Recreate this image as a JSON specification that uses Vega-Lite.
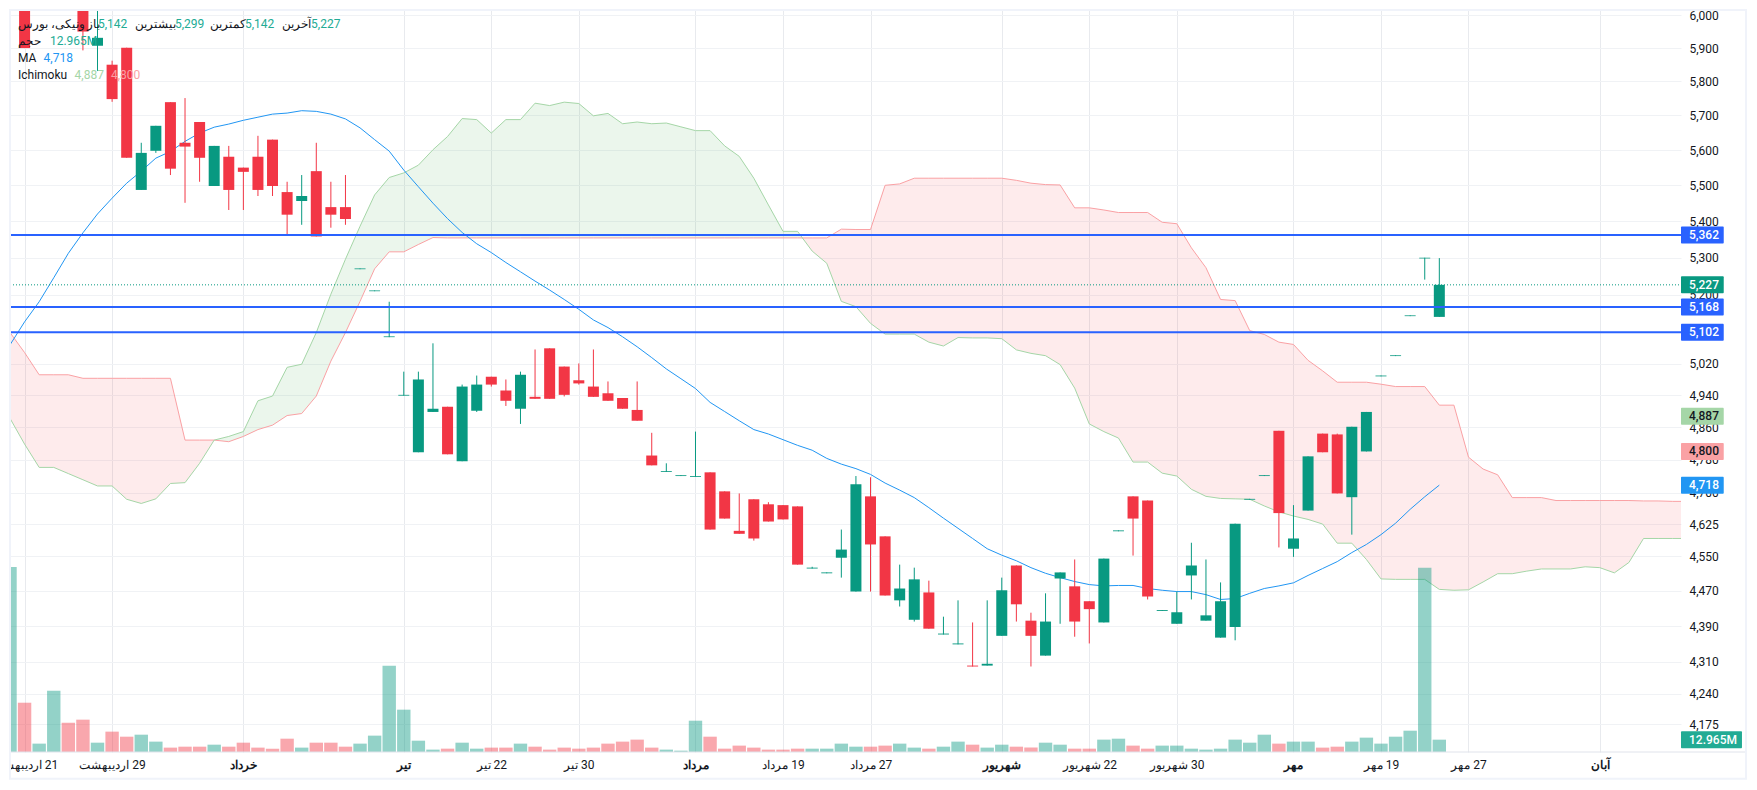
{
  "$schema": "https://vega.github.io/schema/vega-lite/v6.json",
  "width": 1671,
  "height": 742,
  "autosize": "none",
  "padding": {"left": 10, "top": 10, "right": 76, "bottom": 38},
  "background": "white",
  "config": {"view": {"stroke": null}, "font": "Roboto"},
  "datasets": {
    "candles": [
      {"bar":0,"open":6040,"close":6080,"high":6100,"low":5925},
      {"bar":1,"open":6100,"close":5900,"high":6100,"low":5900},
      {"bar":5,"open":6100,"close":5950,"high":6100,"low":5893},
      {"bar":6,"open":5907,"close":5931,"high":6040,"low":5831},
      {"bar":7,"open":5850,"close":5748,"high":5862,"low":5740},
      {"bar":8,"open":5901,"close":5578,"high":5901,"low":5578},
      {"bar":9,"open":5487,"close":5592,"high":5621,"low":5487},
      {"bar":10,"open":5598,"close":5670,"high":5670,"low":5592},
      {"bar":11,"open":5739,"close":5547,"high":5739,"low":5529},
      {"bar":12,"open":5621,"close":5610,"high":5751,"low":5451},
      {"bar":13,"open":5681,"close":5578,"high":5681,"low":5510},
      {"bar":14,"open":5498,"close":5612,"high":5612,"low":5498},
      {"bar":15,"open":5581,"close":5487,"high":5612,"low":5431},
      {"bar":16,"open":5550,"close":5538,"high":5550,"low":5431},
      {"bar":17,"open":5581,"close":5487,"high":5641,"low":5470},
      {"bar":18,"open":5630,"close":5498,"high":5630,"low":5470},
      {"bar":19,"open":5481,"close":5418,"high":5510,"low":5360},
      {"bar":20,"open":5456,"close":5470,"high":5529,"low":5390},
      {"bar":21,"open":5540,"close":5358,"high":5621,"low":5358},
      {"bar":22,"open":5439,"close":5418,"high":5510,"low":5382},
      {"bar":23,"open":5439,"close":5406,"high":5529,"low":5390},
      {"bar":24,"open":5269,"close":5271,"high":5271,"low":5269},
      {"bar":25,"open":5210,"close":5212,"high":5212,"low":5210},
      {"bar":26,"open":5089,"close":5091,"high":5182,"low":5089},
      {"bar":27,"open":4939,"close":4941,"high":5000,"low":4939},
      {"bar":28,"open":4798,"close":4980,"high":5000,"low":4798},
      {"bar":29,"open":4898,"close":4906,"high":5073,"low":4898},
      {"bar":30,"open":4911,"close":4793,"high":4911,"low":4793},
      {"bar":31,"open":4776,"close":4962,"high":4967,"low":4776},
      {"bar":32,"open":4901,"close":4967,"high":4990,"low":4898},
      {"bar":33,"open":4987,"close":4967,"high":4987,"low":4962},
      {"bar":34,"open":4952,"close":4926,"high":4980,"low":4913},
      {"bar":35,"open":4906,"close":4992,"high":5000,"low":4868},
      {"bar":36,"open":4936,"close":4931,"high":5057,"low":4931},
      {"bar":37,"open":5060,"close":4931,"high":5060,"low":4931},
      {"bar":38,"open":5013,"close":4941,"high":5013,"low":4937},
      {"bar":39,"open":4978,"close":4970,"high":5021,"low":4967},
      {"bar":40,"open":4962,"close":4936,"high":5057,"low":4936},
      {"bar":41,"open":4945,"close":4926,"high":4975,"low":4926},
      {"bar":42,"open":4933,"close":4906,"high":4933,"low":4906},
      {"bar":43,"open":4903,"close":4876,"high":4975,"low":4876},
      {"bar":44,"open":4790,"close":4766,"high":4846,"low":4766},
      {"bar":45,"open":4750,"close":4752,"high":4771,"low":4750},
      {"bar":46,"open":4740,"close":4742,"high":4742,"low":4740},
      {"bar":47,"open":4738,"close":4740,"high":4849,"low":4738},
      {"bar":48,"open":4749,"close":4612,"high":4749,"low":4612},
      {"bar":49,"open":4703,"close":4638,"high":4703,"low":4638},
      {"bar":50,"open":4609,"close":4602,"high":4698,"low":4602},
      {"bar":51,"open":4684,"close":4591,"high":4684,"low":4586},
      {"bar":52,"open":4672,"close":4631,"high":4677,"low":4631},
      {"bar":53,"open":4670,"close":4636,"high":4670,"low":4636},
      {"bar":54,"open":4667,"close":4530,"high":4667,"low":4530},
      {"bar":55,"open":4521,"close":4523,"high":4525,"low":4521},
      {"bar":56,"open":4510,"close":4512,"high":4512,"low":4510},
      {"bar":57,"open":4546,"close":4565,"high":4612,"low":4500},
      {"bar":58,"open":4468,"close":4720,"high":4740,"low":4468},
      {"bar":59,"open":4691,"close":4577,"high":4737,"low":4468},
      {"bar":60,"open":4596,"close":4459,"high":4596,"low":4459},
      {"bar":61,"open":4448,"close":4475,"high":4530,"low":4434},
      {"bar":62,"open":4404,"close":4496,"high":4523,"low":4400},
      {"bar":63,"open":4466,"close":4384,"high":4493,"low":4384},
      {"bar":64,"open":4371,"close":4373,"high":4411,"low":4371},
      {"bar":65,"open":4349,"close":4351,"high":4448,"low":4349},
      {"bar":66,"open":4302,"close":4300,"high":4398,"low":4300},
      {"bar":67,"open":4302,"close":4306,"high":4448,"low":4302},
      {"bar":68,"open":4368,"close":4471,"high":4500,"low":4368},
      {"bar":69,"open":4528,"close":4439,"high":4528,"low":4400},
      {"bar":70,"open":4402,"close":4368,"high":4420,"low":4300},
      {"bar":71,"open":4324,"close":4400,"high":4464,"low":4324},
      {"bar":72,"open":4498,"close":4512,"high":4512,"low":4395},
      {"bar":73,"open":4480,"close":4400,"high":4542,"low":4366},
      {"bar":74,"open":4446,"close":4428,"high":4446,"low":4351},
      {"bar":75,"open":4398,"close":4544,"high":4544,"low":4398},
      {"bar":76,"open":4608,"close":4610,"high":4610,"low":4608},
      {"bar":77,"open":4691,"close":4638,"high":4691,"low":4551},
      {"bar":78,"open":4681,"close":4457,"high":4681,"low":4450},
      {"bar":79,"open":4424,"close":4426,"high":4426,"low":4424},
      {"bar":80,"open":4395,"close":4421,"high":4468,"low":4395},
      {"bar":81,"open":4505,"close":4528,"high":4581,"low":4450},
      {"bar":82,"open":4402,"close":4414,"high":4542,"low":4402},
      {"bar":83,"open":4364,"close":4446,"high":4489,"low":4364},
      {"bar":84,"open":4388,"close":4626,"high":4626,"low":4358},
      {"bar":85,"open":4683,"close":4685,"high":4685,"low":4683},
      {"bar":86,"open":4740,"close":4742,"high":4742,"low":4740},
      {"bar":87,"open":4851,"close":4651,"high":4851,"low":4570},
      {"bar":88,"open":4567,"close":4591,"high":4670,"low":4548},
      {"bar":89,"open":4657,"close":4788,"high":4788,"low":4657},
      {"bar":90,"open":4844,"close":4798,"high":4844,"low":4798},
      {"bar":91,"open":4842,"close":4698,"high":4844,"low":4698},
      {"bar":92,"open":4689,"close":4861,"high":4861,"low":4600},
      {"bar":93,"open":4800,"close":4898,"high":4898,"low":4800},
      {"bar":94,"open":4988,"close":4990,"high":4990,"low":4988},
      {"bar":95,"open":5040,"close":5042,"high":5042,"low":5040},
      {"bar":96,"open":5144,"close":5146,"high":5146,"low":5144},
      {"bar":97,"open":5298,"close":5300,"high":5300,"low":5241},
      {"bar":98,"open":5142,"close":5227,"high":5299,"low":5142}
    ],
    "volumes": [
      {"bar":0,"volume":194.6,"side":"up"},{"bar":1,"volume":51.8,"side":"down"},{"bar":2,"volume":8.8,"side":"up"},{"bar":3,"volume":64.4,"side":"up"},
      {"bar":4,"volume":30.8,"side":"down"},{"bar":5,"volume":34,"side":"down"},{"bar":6,"volume":9.8,"side":"up"},{"bar":7,"volume":21.4,"side":"down"},
      {"bar":8,"volume":16.1,"side":"down"},{"bar":9,"volume":18.2,"side":"up"},{"bar":10,"volume":10.9,"side":"up"},{"bar":11,"volume":4.6,"side":"down"},
      {"bar":12,"volume":5.6,"side":"down"},{"bar":13,"volume":5.6,"side":"down"},{"bar":14,"volume":7.7,"side":"up"},{"bar":15,"volume":5.6,"side":"down"},
      {"bar":16,"volume":9.8,"side":"down"},{"bar":17,"volume":4.6,"side":"down"},{"bar":18,"volume":3.5,"side":"down"},{"bar":19,"volume":14,"side":"down"},
      {"bar":20,"volume":4.6,"side":"up"},{"bar":21,"volume":9.8,"side":"down"},{"bar":22,"volume":9.8,"side":"down"},{"bar":23,"volume":5.6,"side":"down"},
      {"bar":24,"volume":8.8,"side":"up"},{"bar":25,"volume":17.2,"side":"up"},{"bar":26,"volume":90.7,"side":"up"},{"bar":27,"volume":44.5,"side":"up"},
      {"bar":28,"volume":11.9,"side":"up"},{"bar":29,"volume":2.5,"side":"up"},{"bar":30,"volume":3.5,"side":"down"},{"bar":31,"volume":9.8,"side":"up"},
      {"bar":32,"volume":3.5,"side":"up"},{"bar":33,"volume":4.6,"side":"down"},{"bar":34,"volume":4.6,"side":"down"},{"bar":35,"volume":8.8,"side":"up"},
      {"bar":36,"volume":5.6,"side":"down"},{"bar":37,"volume":2.5,"side":"down"},{"bar":38,"volume":4.6,"side":"down"},{"bar":39,"volume":3.5,"side":"down"},
      {"bar":40,"volume":4.6,"side":"down"},{"bar":41,"volume":8.8,"side":"down"},{"bar":42,"volume":10.9,"side":"down"},{"bar":43,"volume":13,"side":"down"},
      {"bar":44,"volume":4.6,"side":"down"},{"bar":45,"volume":2.5,"side":"up"},{"bar":46,"volume":1.4,"side":"up"},{"bar":47,"volume":32.9,"side":"up"},
      {"bar":48,"volume":16.1,"side":"down"},{"bar":49,"volume":3.5,"side":"down"},{"bar":50,"volume":6.7,"side":"down"},{"bar":51,"volume":4.6,"side":"down"},
      {"bar":52,"volume":2.5,"side":"down"},{"bar":53,"volume":2.5,"side":"down"},{"bar":54,"volume":3.5,"side":"down"},{"bar":55,"volume":3.5,"side":"up"},
      {"bar":56,"volume":3.5,"side":"up"},{"bar":57,"volume":8.8,"side":"up"},{"bar":58,"volume":5.6,"side":"up"},{"bar":59,"volume":5.6,"side":"down"},
      {"bar":60,"volume":6.7,"side":"down"},{"bar":61,"volume":8.8,"side":"up"},{"bar":62,"volume":4.6,"side":"up"},{"bar":63,"volume":3.5,"side":"down"},
      {"bar":64,"volume":5.6,"side":"up"},{"bar":65,"volume":10.9,"side":"up"},{"bar":66,"volume":7.7,"side":"down"},{"bar":67,"volume":4.6,"side":"up"},
      {"bar":68,"volume":7.7,"side":"up"},{"bar":69,"volume":5.6,"side":"down"},{"bar":70,"volume":4.6,"side":"down"},{"bar":71,"volume":9.8,"side":"up"},
      {"bar":72,"volume":7.7,"side":"up"},{"bar":73,"volume":3.5,"side":"down"},{"bar":74,"volume":3.5,"side":"down"},{"bar":75,"volume":13,"side":"up"},
      {"bar":76,"volume":14,"side":"up"},{"bar":77,"volume":6.7,"side":"down"},{"bar":78,"volume":3.5,"side":"down"},{"bar":79,"volume":6.7,"side":"up"},
      {"bar":80,"volume":6.7,"side":"up"},{"bar":81,"volume":3.5,"side":"up"},{"bar":82,"volume":2.5,"side":"up"},{"bar":83,"volume":3.5,"side":"up"},
      {"bar":84,"volume":13,"side":"up"},{"bar":85,"volume":9.8,"side":"up"},{"bar":86,"volume":18.2,"side":"up"},{"bar":87,"volume":8.8,"side":"down"},
      {"bar":88,"volume":10.9,"side":"up"},{"bar":89,"volume":10.9,"side":"up"},{"bar":90,"volume":4.6,"side":"down"},{"bar":91,"volume":5.6,"side":"down"},
      {"bar":92,"volume":10.9,"side":"up"},{"bar":93,"volume":15.1,"side":"up"},{"bar":94,"volume":8.8,"side":"up"},{"bar":95,"volume":16.1,"side":"up"},
      {"bar":96,"volume":22.4,"side":"up"},{"bar":97,"volume":193.6,"side":"up"},{"bar":98,"volume":12.965,"side":"up"}
    ],
    "ma": [
      {"bar":0,"ma":5069},{"bar":1,"ma":5129},{"bar":2,"ma":5182},{"bar":3,"ma":5246},{"bar":4,"ma":5312},{"bar":5,"ma":5368},{"bar":6,"ma":5420},{"bar":7,"ma":5464},
      {"bar":8,"ma":5506},{"bar":9,"ma":5540},{"bar":10,"ma":5577},{"bar":11,"ma":5596},{"bar":12,"ma":5625},{"bar":13,"ma":5649},{"bar":14,"ma":5666},{"bar":15,"ma":5675},
      {"bar":16,"ma":5686},{"bar":17,"ma":5695},{"bar":18,"ma":5704},{"bar":19,"ma":5707},{"bar":20,"ma":5714},{"bar":21,"ma":5712},{"bar":22,"ma":5704},{"bar":23,"ma":5690},
      {"bar":24,"ma":5664},{"bar":25,"ma":5630},{"bar":26,"ma":5597},{"bar":27,"ma":5543},{"bar":28,"ma":5496},{"bar":29,"ma":5450},{"bar":30,"ma":5407},{"bar":31,"ma":5369},
      {"bar":32,"ma":5338},{"bar":33,"ma":5314},{"bar":34,"ma":5287},{"bar":35,"ma":5262},{"bar":36,"ma":5237},{"bar":37,"ma":5213},{"bar":38,"ma":5188},{"bar":39,"ma":5162},
      {"bar":40,"ma":5134},{"bar":41,"ma":5114},{"bar":42,"ma":5090},{"bar":43,"ma":5064},{"bar":44,"ma":5036},{"bar":45,"ma":5007},{"bar":46,"ma":4982},{"bar":47,"ma":4957},
      {"bar":48,"ma":4922},{"bar":49,"ma":4899},{"bar":50,"ma":4876},{"bar":51,"ma":4854},{"bar":52,"ma":4843},{"bar":53,"ma":4829},{"bar":54,"ma":4815},{"bar":55,"ma":4803},
      {"bar":56,"ma":4783},{"bar":57,"ma":4769},{"bar":58,"ma":4758},{"bar":59,"ma":4744},{"bar":60,"ma":4723},{"bar":61,"ma":4706},{"bar":62,"ma":4688},{"bar":63,"ma":4664},
      {"bar":64,"ma":4639},{"bar":65,"ma":4615},{"bar":66,"ma":4591},{"bar":67,"ma":4567},{"bar":68,"ma":4552},{"bar":69,"ma":4539},{"bar":70,"ma":4523},{"bar":71,"ma":4510},
      {"bar":72,"ma":4500},{"bar":73,"ma":4491},{"bar":74,"ma":4484},{"bar":75,"ma":4481},{"bar":76,"ma":4482},{"bar":77,"ma":4482},{"bar":78,"ma":4475},{"bar":79,"ma":4471},
      {"bar":80,"ma":4468},{"bar":81,"ma":4468},{"bar":82,"ma":4461},{"bar":83,"ma":4450},{"bar":84,"ma":4452},{"bar":85,"ma":4464},{"bar":86,"ma":4475},{"bar":87,"ma":4481},
      {"bar":88,"ma":4488},{"bar":89,"ma":4505},{"bar":90,"ma":4521},{"bar":91,"ma":4537},{"bar":92,"ma":4558},{"bar":93,"ma":4577},{"bar":94,"ma":4600},{"bar":95,"ma":4627},
      {"bar":96,"ma":4660},{"bar":97,"ma":4690},{"bar":98,"ma":4718}
    ],
    "cloud": [
      {"bar":0,"spanA":4882,"spanB":5101},{"bar":1,"spanA":4818,"spanB":5049},{"bar":2,"spanA":4761,"spanB":4992},{"bar":3,"spanA":4761,"spanB":4992},
      {"bar":4,"spanA":4746,"spanB":4992},{"bar":5,"spanA":4731,"spanB":4983},{"bar":6,"spanA":4716,"spanB":4983},{"bar":7,"spanA":4716,"spanB":4983},
      {"bar":8,"spanA":4684,"spanB":4983},{"bar":9,"spanA":4674,"spanB":4983},{"bar":10,"spanA":4685,"spanB":4983},{"bar":11,"spanA":4722,"spanB":4983},
      {"bar":12,"spanA":4724,"spanB":4828},{"bar":13,"spanA":4771,"spanB":4828},{"bar":14,"spanA":4828,"spanB":4828},{"bar":15,"spanA":4837,"spanB":4824},
      {"bar":16,"spanA":4849,"spanB":4837},{"bar":17,"spanA":4926,"spanB":4854},{"bar":18,"spanA":4938,"spanB":4865},{"bar":19,"spanA":5011,"spanB":4889},
      {"bar":20,"spanA":5019,"spanB":4894},{"bar":21,"spanA":5101,"spanB":4938},{"bar":22,"spanA":5202,"spanB":5027},{"bar":23,"spanA":5296,"spanB":5101},
      {"bar":24,"spanA":5386,"spanB":5183},{"bar":25,"spanA":5473,"spanB":5270},{"bar":26,"spanA":5522,"spanB":5316},{"bar":27,"spanA":5535,"spanB":5316},
      {"bar":28,"spanA":5557,"spanB":5336},{"bar":29,"spanA":5601,"spanB":5355},{"bar":30,"spanA":5639,"spanB":5354},{"bar":31,"spanA":5691,"spanB":5354},
      {"bar":32,"spanA":5688,"spanB":5354},{"bar":33,"spanA":5649,"spanB":5354},{"bar":34,"spanA":5688,"spanB":5354},{"bar":35,"spanA":5688,"spanB":5354},
      {"bar":36,"spanA":5736,"spanB":5354},{"bar":37,"spanA":5729,"spanB":5354},{"bar":38,"spanA":5739,"spanB":5354},{"bar":39,"spanA":5735,"spanB":5354},
      {"bar":40,"spanA":5699,"spanB":5354},{"bar":41,"spanA":5706,"spanB":5354},{"bar":42,"spanA":5676,"spanB":5354},{"bar":43,"spanA":5681,"spanB":5354},
      {"bar":44,"spanA":5676,"spanB":5354},{"bar":45,"spanA":5678,"spanB":5354},{"bar":46,"spanA":5667,"spanB":5354},{"bar":47,"spanA":5656,"spanB":5354},
      {"bar":48,"spanA":5656,"spanB":5354},{"bar":49,"spanA":5612,"spanB":5354},{"bar":50,"spanA":5582,"spanB":5354},{"bar":51,"spanA":5520,"spanB":5354},
      {"bar":52,"spanA":5445,"spanB":5354},{"bar":53,"spanA":5372,"spanB":5354},{"bar":54,"spanA":5372,"spanB":5354},{"bar":54.33,"spanA":5354,"spanB":5354},
      {"bar":55,"spanA":5318,"spanB":5354},{"bar":56,"spanA":5285,"spanB":5354},{"bar":57,"spanA":5183,"spanB":5378},{"bar":58,"spanA":5169,"spanB":5377},
      {"bar":59,"spanA":5125,"spanB":5377},{"bar":60,"spanA":5097,"spanB":5500},{"bar":61,"spanA":5097,"spanB":5504},{"bar":62,"spanA":5097,"spanB":5520},
      {"bar":63,"spanA":5076,"spanB":5520},{"bar":64,"spanA":5066,"spanB":5520},{"bar":65,"spanA":5088,"spanB":5520},{"bar":66,"spanA":5087,"spanB":5520},
      {"bar":67,"spanA":5087,"spanB":5520},{"bar":68,"spanA":5085,"spanB":5520},{"bar":69,"spanA":5056,"spanB":5514},{"bar":70,"spanA":5047,"spanB":5506},
      {"bar":71,"spanA":5041,"spanB":5502},{"bar":72,"spanA":5018,"spanB":5501},{"bar":73,"spanA":4958,"spanB":5437},{"bar":74,"spanA":4868,"spanB":5437},
      {"bar":75,"spanA":4849,"spanB":5431},{"bar":76,"spanA":4833,"spanB":5424},{"bar":77,"spanA":4774,"spanB":5424},{"bar":78,"spanA":4774,"spanB":5424},
      {"bar":79,"spanA":4747,"spanB":5397},{"bar":80,"spanA":4740,"spanB":5393},{"bar":81,"spanA":4708,"spanB":5327},{"bar":82,"spanA":4691,"spanB":5273},
      {"bar":83,"spanA":4686,"spanB":5188},{"bar":84,"spanA":4685,"spanB":5185},{"bar":85,"spanA":4684,"spanB":5106},{"bar":86,"spanA":4668,"spanB":5096},
      {"bar":87,"spanA":4654,"spanB":5076},{"bar":88,"spanA":4644,"spanB":5070},{"bar":89,"spanA":4636,"spanB":5029},{"bar":90,"spanA":4625,"spanB":5002},
      {"bar":91,"spanA":4580,"spanB":4973},{"bar":92,"spanA":4580,"spanB":4973},{"bar":93,"spanA":4542,"spanB":4973},{"bar":94,"spanA":4497,"spanB":4968},
      {"bar":95,"spanA":4496,"spanB":4962},{"bar":96,"spanA":4496,"spanB":4962},{"bar":97,"spanA":4496,"spanB":4962},{"bar":98,"spanA":4473,"spanB":4915},
      {"bar":99,"spanA":4471,"spanB":4915},{"bar":100,"spanA":4472,"spanB":4786},{"bar":101,"spanA":4490,"spanB":4757},{"bar":102,"spanA":4509,"spanB":4743},
      {"bar":103,"spanA":4509,"spanB":4688},{"bar":104,"spanA":4515,"spanB":4688},{"bar":105,"spanA":4520,"spanB":4688},{"bar":106,"spanA":4520,"spanB":4681},
      {"bar":107,"spanA":4520,"spanB":4681},{"bar":108,"spanA":4525,"spanB":4681},{"bar":109,"spanA":4523,"spanB":4681},{"bar":110,"spanA":4511,"spanB":4681},
      {"bar":111,"spanA":4535,"spanB":4681},{"bar":112,"spanA":4591,"spanB":4680},{"bar":113,"spanA":4591,"spanB":4680},{"bar":114,"spanA":4591,"spanB":4679},
      {"bar":115,"spanA":4591,"spanB":4679}
    ],
    "priceTags": [
      {"price":5362,"label":"5,362","kind":"level"},
      {"price":5227,"label":"5,227","kind":"last"},
      {"price":5168,"label":"5,168","kind":"level"},
      {"price":5102,"label":"5,102","kind":"level"},
      {"price":4887,"label":"4,887","kind":"spanA"},
      {"price":4800,"label":"4,800","kind":"spanB"},
      {"price":4718,"label":"4,718","kind":"ma"}
    ],
    "legend": [
      {"bar":0.55,"price":5973,"text":"ونیکی، بورس","kind":"label"},
      {"bar":5.28,"price":5973,"text":"باز","kind":"label"},
      {"bar":6.03,"price":5973,"text":"5,142","kind":"value"},
      {"bar":8.57,"price":5973,"text":"بیشترین","kind":"label"},
      {"bar":11.31,"price":5973,"text":"5,299","kind":"value"},
      {"bar":13.71,"price":5973,"text":"کمترین","kind":"label"},
      {"bar":16.11,"price":5973,"text":"5,142","kind":"value"},
      {"bar":18.65,"price":5973,"text":"آخرین","kind":"label"},
      {"bar":20.64,"price":5973,"text":"5,227","kind":"value"},
      {"bar":0.55,"price":5922,"text":"حجم","kind":"label"},
      {"bar":2.74,"price":5922,"text":"12.965M","kind":"value"},
      {"bar":0.55,"price":5870,"text":"MA","kind":"label"},
      {"bar":2.3,"price":5870,"text":"4,718","kind":"maValue"},
      {"bar":0.55,"price":5820,"text":"Ichimoku","kind":"label"},
      {"bar":4.43,"price":5820,"text":"4,887","kind":"spanAValue"},
      {"bar":6.92,"price":5820,"text":"4,800","kind":"spanBValue"}
    ]
  },
  "layer": [
    {
      "layer": [
        {
          "data": {"name": "cloud"},
          "transform": [{"filter": "datum.bar <= 14"}],
          "mark": {"type": "area", "color": "#f23645", "opacity": 0.1, "clip": true},
          "encoding": {
            "x": {
              "field": "bar",
              "type": "quantitative",
              "scale": {"domain": [0, 114.57], "nice": false, "zero": false, "padding": 0},
              "axis": {
                "title": null,
                "values": [1, 7, 16, 27, 33, 39, 47, 53, 59, 68, 74, 80, 88, 94, 100, 109],
                "labelExpr": "{'1':'\u200f21 اردیبهشت','7':'\u200f29 اردیبهشت','16':'خرداد','27':'تیر','33':'\u200f22 تیر','39':'\u200f30 تیر','47':'مرداد','53':'\u200f19 مرداد','59':'\u200f27 مرداد','68':'شهریور','74':'\u200f22 شهریور','80':'\u200f30 شهریور','88':'مهر','94':'\u200f19 مهر','100':'\u200f27 مهر','109':'آبان'}[datum.value]",
                "labelFontWeight": {"condition": {"test": "indexof([16,27,47,68,88,109], datum.value) >= 0", "value": "bold"}, "value": "normal"},
                "labelFont": "Roboto",
                "labelFontSize": 12,
                "labelColor": "#131722",
                "labelPadding": 7,
                "labelOverlap": false,
                "labelFlush": false,
                "labelBound": false,
                "tickSize": 0,
                "ticks": false,
                "domain": false,
                "grid": true,
                "gridColor": "#e8eaee",
                "gridWidth": 1
              }
            },
            "y": {
              "field": "spanA",
              "type": "quantitative",
              "scale": {"type": "log", "domain": [4116, 6016], "nice": false, "padding": 0},
              "axis": {
                "title": null,
                "orient": "right",
                "values": [6000, 5900, 5800, 5700, 5600, 5500, 5400, 5300, 5200, 5020, 4940, 4860, 4780, 4700, 4625, 4550, 4470, 4390, 4310, 4240, 4175],
                "format": ",d",
                "labelFont": "Roboto",
                "labelFontSize": 12,
                "labelColor": "#131722",
                "labelPadding": 8,
                "labelOverlap": false,
                "labelBound": false,
                "labelFlush": false,
                "ticks": false,
                "tickSize": 0,
                "domain": false,
                "grid": true,
                "gridColor": "#f0f2f5",
                "gridWidth": 1
              }
            },
            "y2": {"field": "spanB"}
          }
        },
        {
          "data": {"name": "cloud"},
          "transform": [{"filter": "datum.bar >= 14 && datum.bar <= 54.33"}],
          "mark": {"type": "area", "color": "#4caf50", "opacity": 0.11, "clip": true},
          "encoding": {"x": {"field": "bar", "type": "quantitative"}, "y": {"field": "spanA", "type": "quantitative"}, "y2": {"field": "spanB"}}
        },
        {
          "data": {"name": "cloud"},
          "transform": [{"filter": "datum.bar >= 54.33"}],
          "mark": {"type": "area", "color": "#f23645", "opacity": 0.1, "clip": true},
          "encoding": {"x": {"field": "bar", "type": "quantitative"}, "y": {"field": "spanA", "type": "quantitative"}, "y2": {"field": "spanB"}}
        },
        {
          "data": {"name": "cloud"},
          "mark": {"type": "line", "color": "#faa1a4", "strokeWidth": 1, "clip": true},
          "encoding": {"x": {"field": "bar", "type": "quantitative"}, "y": {"field": "spanB", "type": "quantitative"}}
        },
        {
          "data": {"name": "cloud"},
          "mark": {"type": "line", "color": "#a5d6a7", "strokeWidth": 1, "clip": true},
          "encoding": {"x": {"field": "bar", "type": "quantitative"}, "y": {"field": "spanA", "type": "quantitative"}}
        }
      ]
    },
    {
      "layer": [
        {
          "data": {"name": "volumes"},
          "mark": {"type": "bar", "orient": "vertical", "size": 13.4, "opacity": 0.44, "clip": true},
          "encoding": {
            "x": {"field": "bar", "type": "quantitative"},
            "y": {"field": "volume", "type": "quantitative", "stack": null, "scale": {"domain": [0, 780], "nice": false, "padding": 0}, "axis": null},
            "color": {"condition": {"test": "datum.side === 'up'", "value": "#089981"}, "value": "#f23645"}
          }
        },
        {
          "data": {"values": [{"label": "12.965M"}]},
          "mark": {"type": "bar", "orient": "horizontal", "size": 17, "color": "#22ab94", "cornerRadius": 1},
          "encoding": {
            "x": {"datum": 114.57},
            "x2": {"datum": 118.75},
            "y": {"datum": 12.965, "type": "quantitative"}
          }
        },
        {
          "data": {"values": [{"label": "12.965M"}]},
          "mark": {"type": "text", "align": "left", "baseline": "middle", "font": "Roboto", "fontSize": 12, "fontWeight": 500, "color": "white"},
          "encoding": {
            "x": {"datum": 115.12},
            "y": {"datum": 12.965, "type": "quantitative"},
            "text": {"field": "label"}
          }
        }
      ]
    },
    {
      "layer": [
        {
          "data": {"name": "ma"},
          "mark": {"type": "line", "color": "#2196f3", "strokeWidth": 1, "clip": true},
          "encoding": {
            "x": {"field": "bar", "type": "quantitative"},
            "y": {"field": "ma", "type": "quantitative", "scale": {"type": "log", "domain": [4116, 6016], "nice": false, "padding": 0}, "axis": null}
          }
        },
        {
          "data": {"name": "candles"},
          "mark": {"type": "rule", "strokeWidth": 1, "clip": true},
          "encoding": {
            "x": {"field": "bar", "type": "quantitative"},
            "y": {"field": "low", "type": "quantitative"},
            "y2": {"field": "high"},
            "color": {"condition": {"test": "datum.close >= datum.open", "value": "#089981"}, "value": "#f23645"}
          }
        },
        {
          "data": {"name": "candles"},
          "mark": {"type": "bar", "orient": "vertical", "size": 11, "clip": true},
          "encoding": {
            "x": {"field": "bar", "type": "quantitative"},
            "y": {"field": "open", "type": "quantitative"},
            "y2": {"field": "close"},
            "color": {"condition": {"test": "datum.close >= datum.open", "value": "#089981"}, "value": "#f23645"}
          }
        },
        {
          "data": {"values": [{"price": 5227}]},
          "mark": {"type": "rule", "color": "#089981", "strokeWidth": 1, "strokeDash": [1, 2]},
          "encoding": {"x": {"datum": 0}, "x2": {"datum": 114.57}, "y": {"field": "price", "type": "quantitative"}}
        },
        {
          "data": {"values": [{"price": 5362}, {"price": 5168}, {"price": 5102}]},
          "mark": {"type": "rule", "color": "#2962ff", "strokeWidth": 2},
          "encoding": {"x": {"datum": 0}, "x2": {"datum": 114.57}, "y": {"field": "price", "type": "quantitative"}}
        },
        {
          "data": {"values": [{"top": 4116, "bottom": 4055}]},
          "mark": {"type": "rect", "color": "white"},
          "encoding": {"x": {"datum": -1}, "x2": {"datum": 0}, "y": {"field": "top", "type": "quantitative"}, "y2": {"field": "bottom"}}
        },
        {
          "data": {"values": [{"price": 4116}]},
          "mark": {"type": "rule", "color": "#e0e3eb", "strokeWidth": 1},
          "encoding": {"x": {"datum": 0}, "x2": {"datum": 119.03}, "y": {"field": "price", "type": "quantitative"}}
        },
        {
          "data": {"values": [{"top": 6016, "bottom": 4060}]},
          "mark": {"type": "rect", "fillOpacity": 0, "stroke": "#f0f3fa", "strokeWidth": 2},
          "encoding": {"x": {"datum": 0}, "x2": {"datum": 119.03}, "y": {"field": "top", "type": "quantitative"}, "y2": {"field": "bottom"}}
        },
        {
          "data": {"name": "priceTags"},
          "mark": {"type": "bar", "orient": "horizontal", "size": 17, "cornerRadius": 1},
          "encoding": {
            "x": {"datum": 114.57},
            "x2": {"datum": 117.5},
            "y": {"field": "price", "type": "quantitative"},
            "color": {
              "field": "kind",
              "type": "nominal",
              "legend": null,
              "scale": {"domain": ["level", "last", "spanA", "spanB", "ma"], "range": ["#2962ff", "#089981", "#a5d6a7", "#faa1a4", "#2196f3"]}
            }
          }
        },
        {
          "data": {"name": "priceTags"},
          "mark": {"type": "text", "align": "left", "baseline": "middle", "font": "Roboto", "fontSize": 12, "fontWeight": 500},
          "encoding": {
            "x": {"datum": 115.12},
            "y": {"field": "price", "type": "quantitative"},
            "text": {"field": "label"},
            "color": {"condition": {"test": "datum.kind === 'spanA' || datum.kind === 'spanB'", "value": "#131722"}, "value": "white"}
          }
        },
        {
          "data": {"name": "legend"},
          "mark": {"type": "text", "align": "left", "baseline": "middle", "font": "Roboto", "fontSize": 12},
          "encoding": {
            "x": {"field": "bar", "type": "quantitative"},
            "y": {"field": "price", "type": "quantitative"},
            "text": {"field": "text"},
            "color": {
              "condition": [
                {"test": "datum.kind === 'value'", "value": "#22ab94"},
                {"test": "datum.kind === 'maValue'", "value": "#2196f3"},
                {"test": "datum.kind === 'spanAValue'", "value": "#a5d6a7"},
                {"test": "datum.kind === 'spanBValue'", "value": "#faa1a4"}
              ],
              "value": "#131722"
            }
          }
        }
      ]
    }
  ],
  "resolve": {"scale": {"y": "independent"}, "axis": {"y": "independent"}}
}
